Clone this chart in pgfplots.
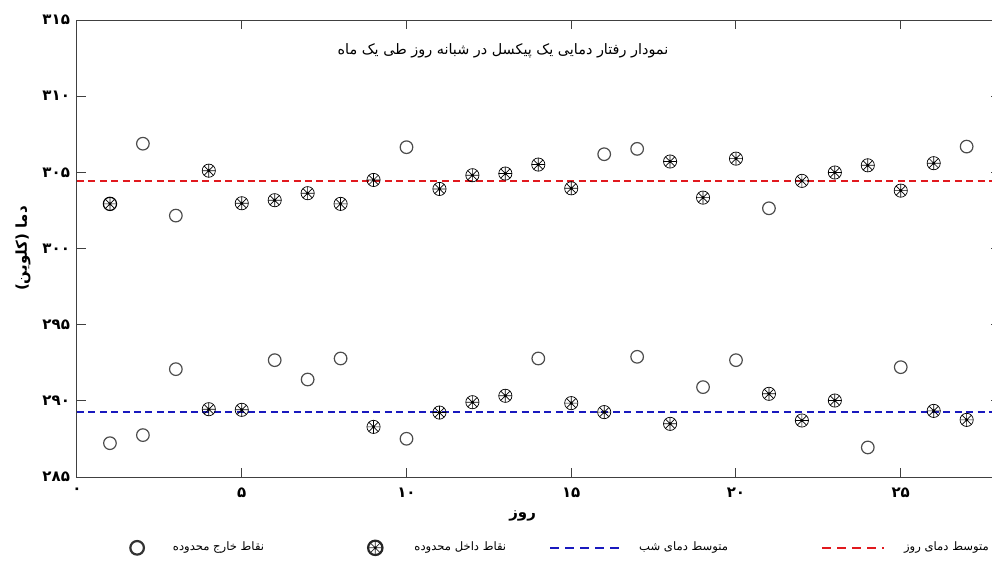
\documentclass[border=0pt]{standalone}
\usepackage{pgfplots}
\pgfplotsset{compat=1.18}
\usepackage{fontspec}
\setmainfont{DejaVu Sans}
\newfontfamily\arabicfont[Script=Arabic]{DejaVu Sans}
\TeXXeTstate=1
\definecolor{dayred}{RGB}{225,25,30}
\definecolor{nightblue}{RGB}{25,25,190}
\pgfdeclareplotmark{circast}{%
  \pgfpathcircle{\pgfpointorigin}{\pgfplotmarksize}%
  \pgfusepathqstroke
  \pgfsetlinewidth{0.35pt}%
  \pgfpathmoveto{\pgfpointpolar{0}{\pgfplotmarksize}}\pgfpathlineto{\pgfpointpolar{180}{\pgfplotmarksize}}%
  \pgfpathmoveto{\pgfpointpolar{45}{\pgfplotmarksize}}\pgfpathlineto{\pgfpointpolar{225}{\pgfplotmarksize}}%
  \pgfpathmoveto{\pgfpointpolar{90}{\pgfplotmarksize}}\pgfpathlineto{\pgfpointpolar{270}{\pgfplotmarksize}}%
  \pgfpathmoveto{\pgfpointpolar{135}{\pgfplotmarksize}}\pgfpathlineto{\pgfpointpolar{315}{\pgfplotmarksize}}%
  \pgfusepathqstroke
  \pgfpathcircle{\pgfpointorigin}{0.7pt}\pgfusepathqfill
}
\pgfplotsset{
  nightlegend/.style={legend image code/.code={\draw[##1, dash pattern=on 4.5pt off 3pt] (0pt,0pt) -- (35pt,0pt);}},
  daylegend/.style={legend image code/.code={\draw[##1, dash pattern=on 4.5pt off 3pt] (0pt,0pt) -- (31pt,0pt);}},
}
\begin{document}
\begin{tikzpicture}
\path[use as bounding box] (-38.5pt,-48.5pt) rectangle (457.5pt,238.5pt);
\begin{axis}[
  scale only axis, width=461.3pt, height=228.5pt,
  xmin=0, xmax=28, ymin=285, ymax=315,
  xtick={0,5,10,15,20,25}, xticklabels={۰,۵,۱۰,۱۵,۲۰,۲۵},
  ytick={285,290,295,300,305,310,315},
  yticklabels={۲۸۵,۲۹۰,۲۹۵,۳۰۰,۳۰۵,۳۱۰,۳۱۵},
  tick align=inside, major tick length=4.5pt,
  tick style={black!75, line width=0.5pt},
  axis line style={black!75, line width=0.5pt},
  ticklabel style={font=\arabicfont\bfseries\fontsize{7.5}{8}\selectfont},
  xticklabel style={yshift=-2pt},
  title={\arabicfont\beginR نمودار رفتار دمایی یک پیکسل در شبانه روز طی یک ماه\endR},
  title style={at={(axis description cs:0.4617,0.906)}, anchor=center, font=\fontsize{7.2}{9}\selectfont},
  xlabel={\arabicfont\bfseries\beginR روز\endR},
  xlabel style={at={(axis description cs:0.483,-0.085)}, anchor=center, font=\fontsize{7.5}{9}\selectfont},
  ylabel={\arabicfont\bfseries\beginR دما (کلوین)\endR},
  ylabel style={at={(axis description cs:-0.0585,0.5)}, anchor=center, font=\fontsize{7.5}{9}\selectfont},
  legend columns=4,
  legend style={draw=none, fill=none, at={(axis description cs:0.9995,-0.155)}, anchor=east,
    font=\fontsize{5.8}{7}\selectfont,
    /tikz/column 1/.style={column sep=12.5pt},
    /tikz/column 2/.style={column sep=50pt},
    /tikz/column 3/.style={column sep=14pt},
    /tikz/column 4/.style={column sep=19.5pt},
    /tikz/column 5/.style={column sep=7pt},
    /tikz/column 6/.style={column sep=44.5pt},
    /tikz/column 7/.style={column sep=7.5pt}},
]
\addplot[only marks, mark=o, mark size=3.15pt, mark options={draw=black!70, line width=0.6pt},
  legend image post style={mark size=3.4pt, mark options={draw=black!80, line width=1.1pt}}] coordinates {
 (2,306.88) (3,302.16) (10,306.65) (16,306.19) (17,306.54) (21,302.64) (27,306.69)
 (1,287.22) (2,287.75) (3,292.08) (6,292.67) (7,291.40) (8,292.78) (10,287.51)
 (14,292.78) (17,292.89) (19,290.90) (20,292.67) (24,286.94) (25,292.21)
};
\addlegendentry{\arabicfont\beginR نقاط خارج محدوده\endR}
\addplot[only marks, mark=circast, mark size=3.3pt, mark options={draw=black, fill=black, line width=0.6pt},
  legend image post style={mark size=3.6pt, mark options={draw=black!85, fill=black, line width=1.1pt}}] coordinates {
 (1,302.93) (4,305.11) (5,302.97) (6,303.17) (7,303.63) (8,302.93) (9,304.50)
 (11,303.91) (12,304.81) (13,304.92) (14,305.51) (15,303.95) (18,305.71) (19,303.34)
 (20,305.90) (22,304.44) (23,304.99) (24,305.46) (25,303.80) (26,305.60)
 (4,289.45) (5,289.41) (9,288.29) (11,289.23) (12,289.91) (13,290.33) (15,289.85)
 (16,289.26) (18,288.49) (21,290.46) (22,288.71) (23,290.02) (26,289.34) (27,288.75)
};
\addlegendentry{\arabicfont\beginR نقاط داخل محدوده\endR}
\addplot[nightblue, line width=1pt, dash pattern=on 3.5pt off 2.2pt, nightlegend] coordinates {(0,289.26) (28,289.26)};
\addlegendentry{\arabicfont\beginR متوسط دمای شب\endR}
\addplot[dayred, line width=1pt, dash pattern=on 3.5pt off 2.2pt, daylegend] coordinates {(0,304.4) (28,304.4)};
\addlegendentry{\arabicfont\beginR متوسط دمای روز\endR}
\end{axis}
\end{tikzpicture}
\end{document}
